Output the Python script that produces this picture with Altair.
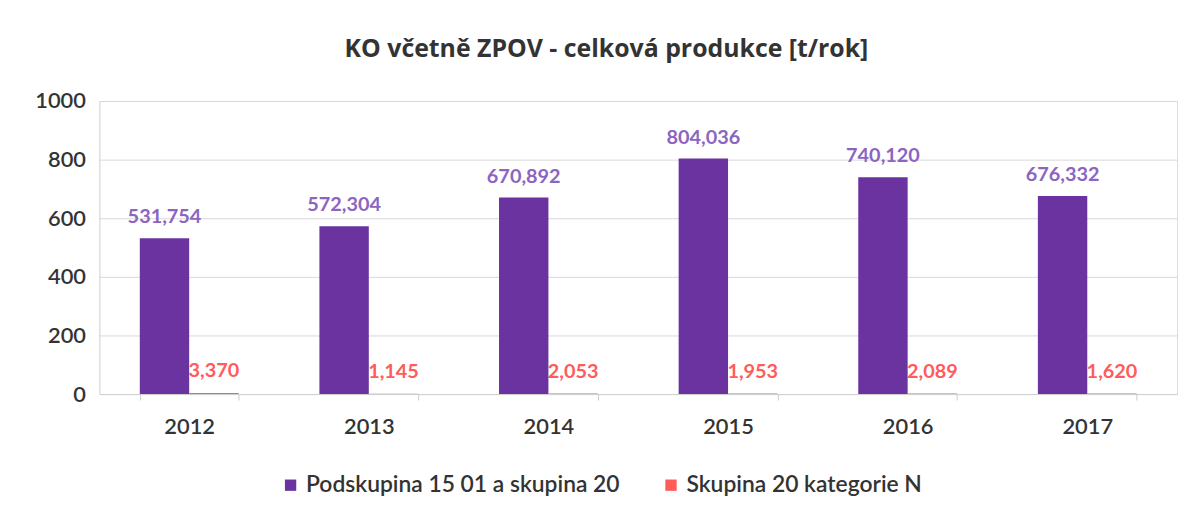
import altair as alt
import pandas as pd

years = ["2012", "2013", "2014", "2015", "2016", "2017"]
series_a = "Podskupina 15 01 a skupina 20"
series_b = "Skupina 20 kategorie N"
values_a = [531.754, 572.304, 670.892, 804.036, 740.120, 676.332]
values_b = [3.370, 1.145, 2.053, 1.953, 2.089, 1.620]
y_ticks = [0, 200, 400, 600, 800, 1000]
title_text = "KO včetně ZPOV - celková produkce [t/rok]"

PURPLE = "#6A33A0"
RED = "#FF5B5B"
FONT = "Lato"

rows = []
for y, a, b in zip(years, values_a, values_b):
    rows.append({"year": y, "series": series_a, "value": a,
                 "label": f"{a:.3f}".replace(".", ",")})
    rows.append({"year": y, "series": series_b, "value": b,
                 "label": f"{b:.3f}".replace(".", ",")})
df = pd.DataFrame(rows)

series_order = [series_a, series_b]

x_enc = alt.X("year:N", sort=years, title=None,
              scale=alt.Scale(paddingInner=0.45, paddingOuter=0.225),
              axis=alt.Axis(labelAngle=0, labelFontSize=22, labelColor="#333333",
                            labelFont=FONT, labelFontWeight=600, labelPadding=17,
                            domainColor="#d0d0d0",
                            ticks=True, tickBand="extent", tickSize=6,
                            tickColor="#cccccc"))
xo_enc = alt.XOffset("series:N", sort=series_order,
                     scale=alt.Scale(domain=series_order, paddingInner=0, paddingOuter=0))
y_enc = alt.Y("value:Q", title=None,
              scale=alt.Scale(domain=[0, 1000], nice=False),
              axis=alt.Axis(values=y_ticks, format="d", labelFontSize=22,
                            labelColor="#333333", labelFontWeight=600,
                            labelFont=FONT, labelPadding=14, ticks=False,
                            gridColor="#d9d9d9", domainColor="#dddddd"))

base = alt.Chart(df).encode(x=x_enc, xOffset=xo_enc, y=y_enc)

red_text = base.transform_filter(alt.datum.series == series_b).mark_text(
    baseline="middle", dy=-22, fontSize=20, font=FONT, fontWeight="bold", color=RED
).encode(text="label:N")

bars = base.mark_bar().encode(
    color=alt.Color("series:N", sort=series_order,
                    scale=alt.Scale(domain=series_order, range=[PURPLE, RED]),
                    legend=alt.Legend(title=None, orient="none", direction="horizontal",
                                      legendX=181, legendY=375, symbolType="square",
                                      symbolSize=130, symbolStrokeWidth=0,
                                      labelFontSize=23, labelFont=FONT,
                                      labelFontWeight=600,
                                      labelColor="#333333", columnPadding=40,
                                      labelLimit=600))
)

purple_text = base.transform_filter(alt.datum.series == series_a).mark_text(
    baseline="middle", dy=-21, fontSize=20, font=FONT, fontWeight="bold", color="#8B65C0"
).encode(text="label:N")

chart = alt.layer(red_text, bars, purple_text).properties(
    width=1085, height=295,
    autosize=alt.AutoSizeParams(type="none"),
    padding={"left": 92, "top": 92, "right": 12, "bottom": 106},
    title=alt.TitleParams(title_text + "\u00a0", fontSize=25,
                          font="Open Sans", fontWeight="bold", color="#333333",
                          anchor="middle", dx=-32, offset=28, limit=1000),
).configure_view(stroke=None).configure(background="white")

chart.save("out.html", embed_options={"renderer": "svg", "actions": False})
